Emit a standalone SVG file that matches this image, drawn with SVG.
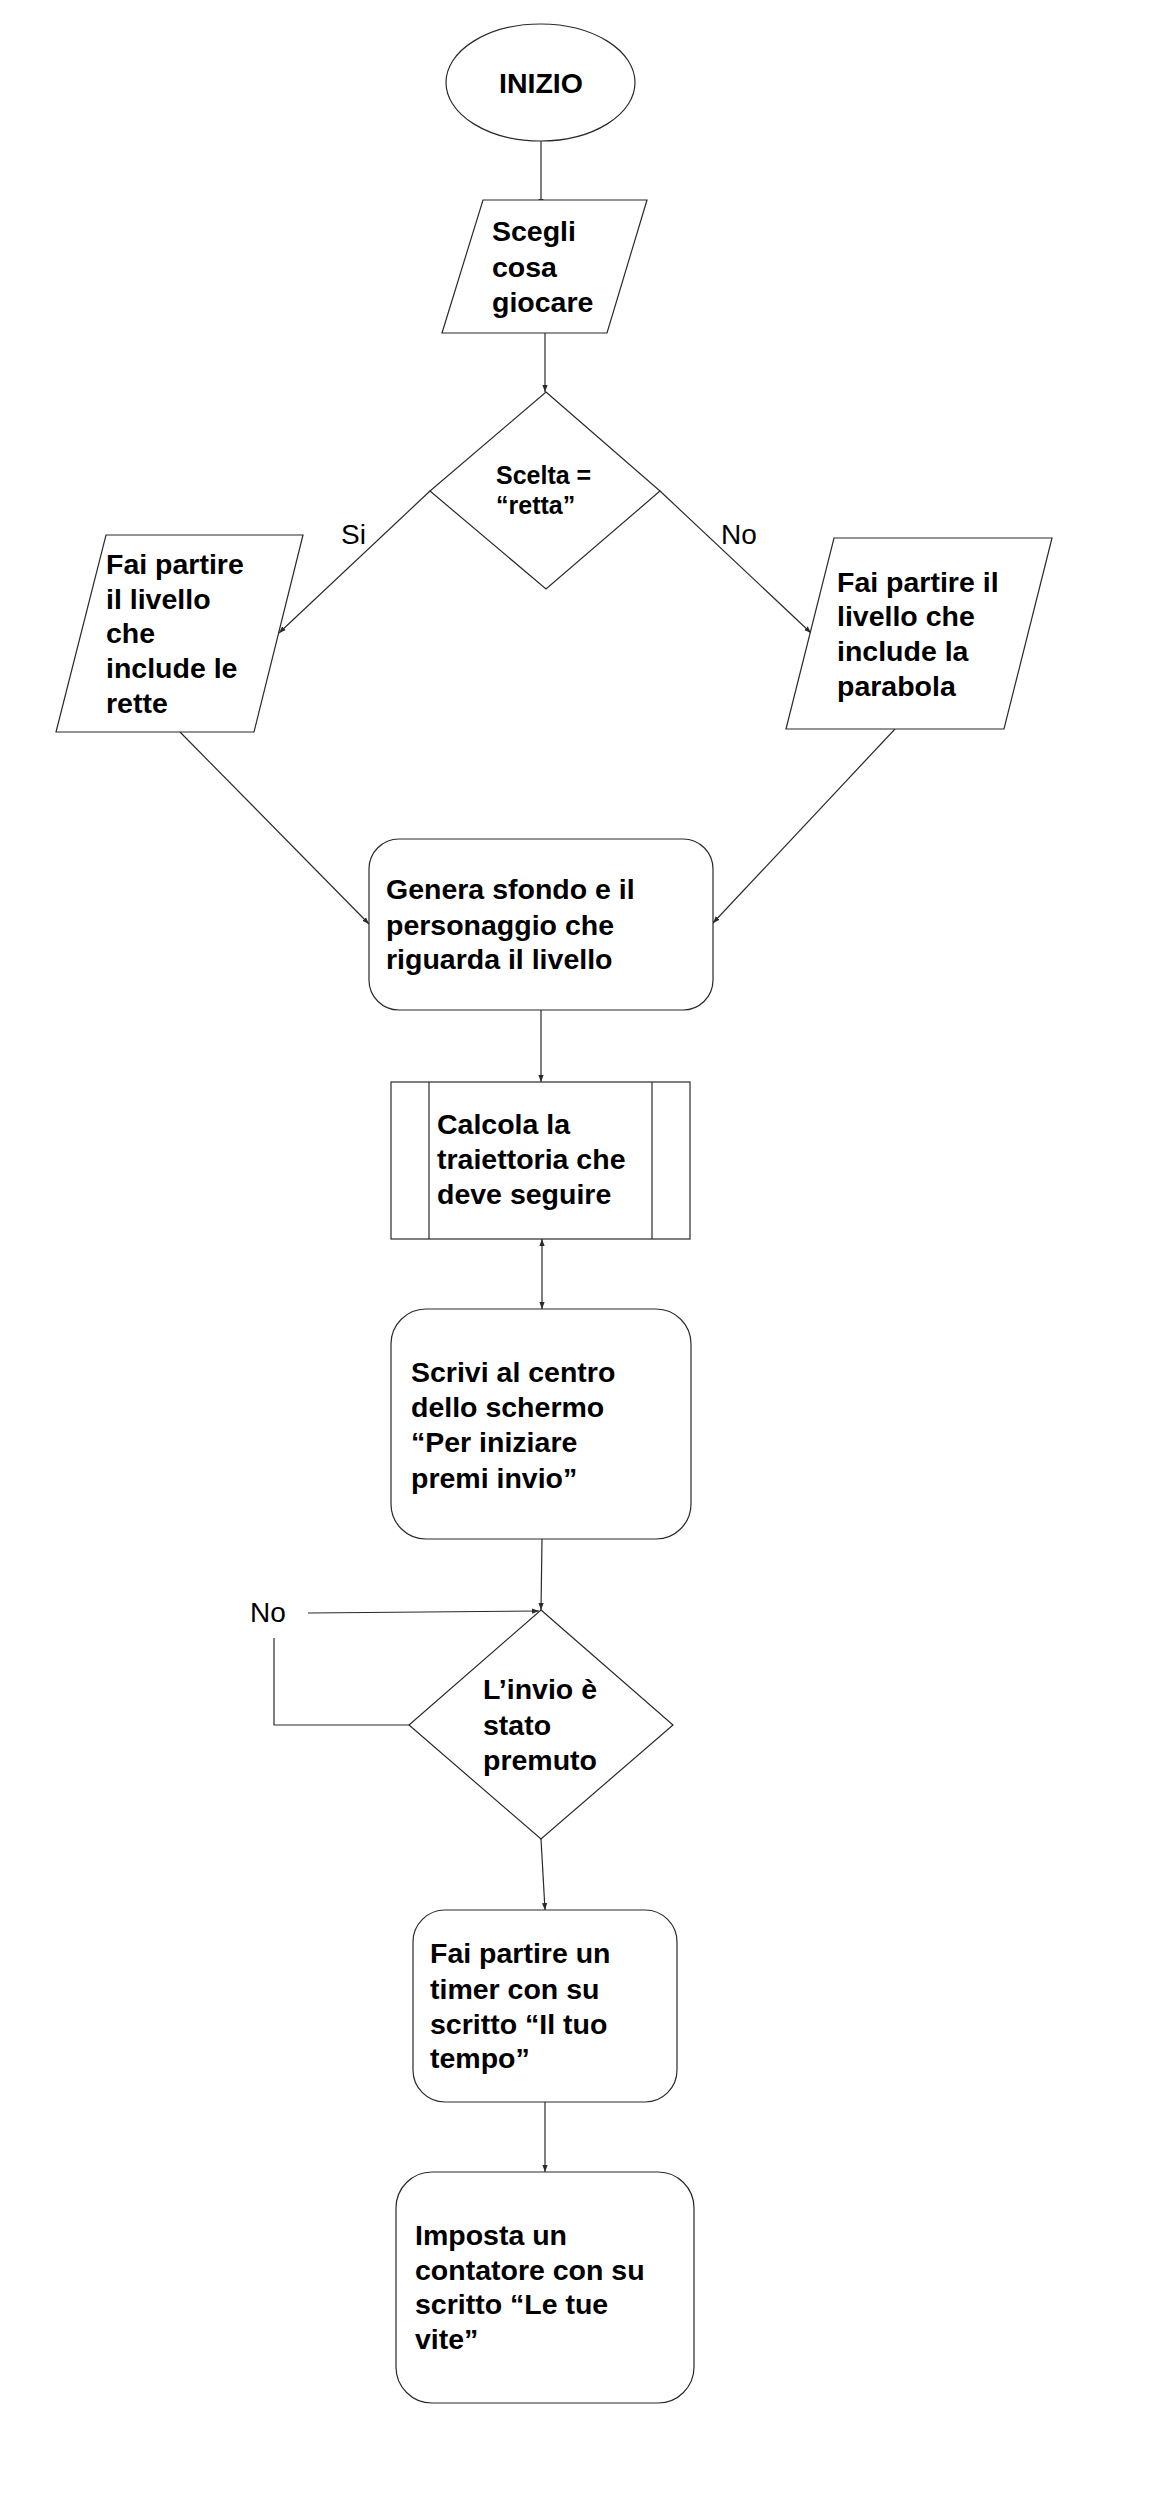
<svg xmlns="http://www.w3.org/2000/svg" width="1151" height="2500" viewBox="0 0 1151 2500">
  <style>
    .shape { fill: #ffffff; stroke: #2a2a2a; stroke-width: 1.2; }
    .conn { fill: none; stroke: #2a2a2a; stroke-width: 1.2; }
    .t { font-family: "Liberation Sans", Arial, sans-serif; font-weight: bold; font-size: 28.5px; fill: #000; }
    .ts { font-family: "Liberation Sans", Arial, sans-serif; font-weight: bold; font-size: 25px; fill: #000; }
    .lbl { font-family: "Liberation Sans", Arial, sans-serif; font-size: 28px; fill: #000; }
  </style>
  <defs>
    <marker id="arrow" markerUnits="userSpaceOnUse" viewBox="0 0 8 8" refX="8" refY="4" markerWidth="7" markerHeight="7" orient="auto-start-reverse">
      <path d="M0,1 L8,4 L0,7 z" fill="#2a2a2a"/>
    </marker>
  </defs>

  <rect x="0" y="0" width="1151" height="2500" fill="#ffffff"/>

  <!-- connectors -->
  <g id="connectors">
    <line class="conn" x1="541" y1="141" x2="541" y2="206" marker-end="url(#arrow)"/>
    <line class="conn" x1="545" y1="333" x2="545" y2="392" marker-end="url(#arrow)"/>
    <line class="conn" x1="430" y1="491" x2="279" y2="633" marker-end="url(#arrow)"/>
    <line class="conn" x1="660" y1="491" x2="811" y2="633" marker-end="url(#arrow)"/>
    <line class="conn" x1="180" y1="732" x2="369" y2="924" marker-end="url(#arrow)"/>
    <line class="conn" x1="895" y1="729" x2="713" y2="923" marker-end="url(#arrow)"/>
    <line class="conn" x1="541" y1="1010" x2="541" y2="1082" marker-end="url(#arrow)"/>
    <line class="conn" x1="542" y1="1239" x2="542" y2="1309" marker-start="url(#arrow)" marker-end="url(#arrow)"/>
    <line class="conn" x1="542" y1="1539" x2="541" y2="1610" marker-end="url(#arrow)"/>
    <line class="conn" x1="308" y1="1613" x2="539" y2="1611" marker-end="url(#arrow)"/>
    <polyline class="conn" points="409,1725 274,1725 274,1638"/>
    <line class="conn" x1="541" y1="1839" x2="545" y2="1910" marker-end="url(#arrow)"/>
    <line class="conn" x1="545" y1="2102" x2="545" y2="2172" marker-end="url(#arrow)"/>
    <text class="lbl" x="341" y="544">Si</text>
    <text class="lbl" x="721" y="544">No</text>
    <text class="lbl" x="250" y="1622">No</text>
  </g>

  <!-- start -->
  <g id="inizio">
    <ellipse class="shape" cx="540.5" cy="82.5" rx="94.5" ry="58.5"/>
    <text class="t" x="499" y="93">INIZIO</text>
  </g>

  <!-- choose what to play -->
  <g id="scegli">
    <polygon class="shape" points="483,200 647,200 607,333 442,333"/>
    <text class="t" x="492" y="241">Scegli</text>
    <text class="t" x="492" y="277">cosa</text>
    <text class="t" x="492" y="312">giocare</text>
  </g>

  <!-- decision: retta -->
  <g id="scelta">
    <polygon class="shape" points="546,392 660,491 546,589 430,491"/>
    <text class="ts" x="496" y="484">Scelta =</text>
    <text class="ts" x="496" y="514">“retta”</text>
  </g>

  <!-- level with lines -->
  <g id="livello-rette">
    <polygon class="shape" points="106,535 303,535 254,732 56,732"/>
    <text class="t" x="106" y="574">Fai partire</text>
    <text class="t" x="106" y="609">il livello</text>
    <text class="t" x="106" y="643">che</text>
    <text class="t" x="106" y="678">include le</text>
    <text class="t" x="106" y="713">rette</text>
  </g>

  <!-- level with parabola -->
  <g id="livello-parabola">
    <polygon class="shape" points="834,538 1052,538 1004,729 786,729"/>
    <text class="t" x="837" y="592">Fai partire il</text>
    <text class="t" x="837" y="626">livello che</text>
    <text class="t" x="837" y="661">include la</text>
    <text class="t" x="837" y="696">parabola</text>
  </g>

  <!-- background and character -->
  <g id="genera">
    <rect class="shape" x="369" y="839" width="344" height="171" rx="30" ry="30"/>
    <text class="t" x="386" y="899">Genera sfondo e il</text>
    <text class="t" x="386" y="935">personaggio che</text>
    <text class="t" x="386" y="969">riguarda il livello</text>
  </g>

  <!-- trajectory subroutine -->
  <g id="calcola">
    <rect class="shape" x="391" y="1082" width="299" height="157"/>
    <line class="conn" x1="429" y1="1082" x2="429" y2="1239"/>
    <line class="conn" x1="652" y1="1082" x2="652" y2="1239"/>
    <text class="t" x="437" y="1134">Calcola la</text>
    <text class="t" x="437" y="1169">traiettoria che</text>
    <text class="t" x="437" y="1204">deve seguire</text>
  </g>

  <!-- start prompt -->
  <g id="scrivi">
    <rect class="shape" x="391" y="1309" width="300" height="230" rx="35" ry="35"/>
    <text class="t" x="411" y="1382">Scrivi al centro</text>
    <text class="t" x="411" y="1417">dello schermo</text>
    <text class="t" x="411" y="1452">“Per iniziare</text>
    <text class="t" x="411" y="1488">premi invio”</text>
  </g>

  <!-- decision: enter pressed -->
  <g id="invio">
    <polygon class="shape" points="541,1610 673,1725 541,1839 409,1725"/>
    <text class="t" x="483" y="1699">L’invio è</text>
    <text class="t" x="483" y="1735">stato</text>
    <text class="t" x="483" y="1770">premuto</text>
  </g>

  <!-- timer -->
  <g id="timer">
    <rect class="shape" x="413" y="1910" width="264" height="192" rx="32" ry="32"/>
    <text class="t" x="430" y="1963">Fai partire un</text>
    <text class="t" x="430" y="1999">timer con su</text>
    <text class="t" x="430" y="2034">scritto “Il tuo</text>
    <text class="t" x="430" y="2068">tempo”</text>
  </g>

  <!-- lives counter -->
  <g id="vite">
    <rect class="shape" x="396" y="2172" width="298" height="231" rx="36" ry="36"/>
    <text class="t" x="415" y="2245">Imposta un</text>
    <text class="t" x="415" y="2280">contatore con su</text>
    <text class="t" x="415" y="2314">scritto “Le tue</text>
    <text class="t" x="415" y="2349">vite”</text>
  </g>
</svg>
